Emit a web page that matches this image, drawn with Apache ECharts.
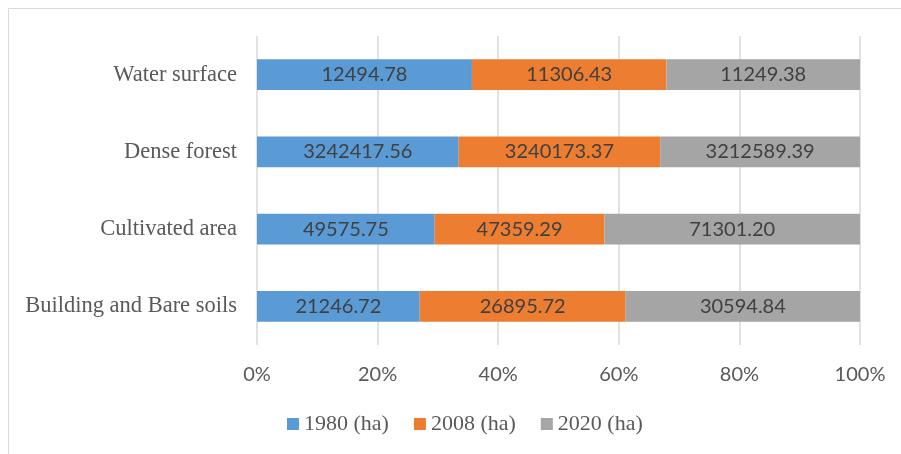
<!DOCTYPE html>
<html>
<head>
<meta charset="utf-8">
<script src="https://cdn.jsdelivr.net/npm/echarts@6/dist/echarts.min.js"></script>
<style>
html,body{margin:0;padding:0;background:#fff;}
#chart{width:901px;height:454px;}
</style>
</head>
<body>
<div id="chart"></div>
<script>
// Categories listed bottom-to-top (category axis runs upward)
const categories = ['Building and Bare soils', 'Cultivated area', 'Dense forest', 'Water surface'];
const seriesNames = ['1980 (ha)', '2008 (ha)', '2020 (ha)'];
const values1980 = [21246.72, 49575.75, 3242417.56, 12494.78];
const values2008 = [26895.72, 47359.29, 3240173.37, 11306.43];
const values2020 = [30594.84, 71301.20, 3212589.39, 11249.38];
const colors = ['#5b9bd5', '#ed7d31', '#a5a5a5'];
const tickValues = [0, 20, 40, 60, 80, 100];

const all = [values1980, values2008, values2020];
const totals = categories.map((c, i) => all.reduce((s, arr) => s + arr[i], 0));

const series = all.map((arr, k) => ({
  name: seriesNames[k],
  type: 'bar',
  stack: 'total',
  barWidth: '40%',
  itemStyle: { color: colors[k] },
  label: {
    show: true,
    position: 'inside',
    color: '#404040',
    fontFamily: 'Lato',
    fontSize: 20,
    formatter: p => arr[p.dataIndex].toFixed(2)
  },
  data: arr.map((v, i) => v / totals[i] * 100)
}));

const chart = echarts.init(document.getElementById('chart'));
chart.setOption({
  animation: false,
  graphic: [{
    type: 'rect',
    shape: { x: 8.5, y: 8.5, width: 1000, height: 1000 },
    style: { fill: 'none', stroke: '#d9d9d9', lineWidth: 1 },
    silent: true
  }],
  grid: { left: 257, right: 41, top: 36, bottom: 109, containLabel: false },
  legend: {
    left: 287,
    top: 413,
    padding: 0,
    itemWidth: 12,
    itemHeight: 12,
    itemGap: 25,
    icon: 'rect',
    textStyle: { fontFamily: 'Liberation Serif', fontSize: 22, color: '#595959' },
    data: seriesNames
  },
  xAxis: {
    type: 'value',
    min: 0,
    max: 100,
    interval: 20,
    axisLine: { show: false },
    axisTick: { show: false },
    splitLine: { show: true, lineStyle: { color: '#d9d9d9', width: 1.5 } },
    axisLabel: {
      margin: 20,
      color: '#595959',
      fontFamily: 'Lato',
      fontSize: 20,
      formatter: v => tickValues.includes(v) ? v + '%' : ''
    }
  },
  yAxis: {
    type: 'category',
    data: categories,
    axisLine: { show: false },
    axisTick: { show: false },
    axisLabel: {
      margin: 20,
      color: '#595959',
      fontFamily: 'Liberation Serif',
      fontSize: 22.5
    }
  },
  series: series
});
</script>
</body>
</html>
